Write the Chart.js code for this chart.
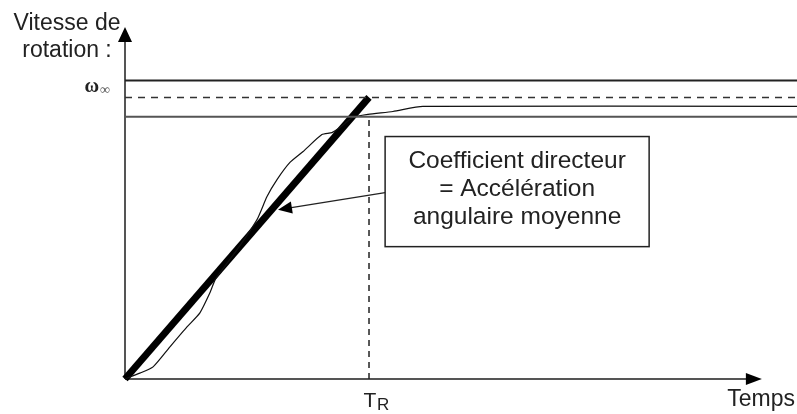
<!DOCTYPE html>
<html>
<head>
<meta charset="utf-8">
<script src="https://cdn.jsdelivr.net/npm/chart.js@4"></script>
<style>
  body { margin: 0; background: #fff; }
  canvas { display: block; }
</style>
</head>
<body>
<canvas id="graphe" width="797" height="414"></canvas>
<script>
// Axes (unités arbitraires : T_R = 10, omega infini = 100)
const xMax = 27.54;
const yMax = 125;
const xFleche = 26.1;
const T_R = 10;
const omegaInf = 100;
const omegaHaut = 106;
const omegaBas = 93.1;

// Droite moyenne (coefficient directeur)
const droiteX = [0, T_R];
const droiteY = [0, omegaInf];

// Courbe relevée de la vitesse de rotation
const courbeX = [0, 0.61, 1.15, 1.84, 2.54, 3.07, 3.48, 3.69, 3.89, 4.6, 5.41, 5.82, 6.23, 6.76, 7.3, 8.07, 8.48, 8.81, 9.34, 9.96, 10.98, 12.21, 27.54];
const courbeY = [0, 2.1, 4.3, 11.4, 18.5, 23.5, 30.6, 35.2, 37.7, 46, 56.6, 64.8, 70.8, 76.9, 80.8, 86.8, 87.5, 89.3, 92.9, 94.0, 95.0, 96.8, 96.8];

// Annotation
const boiteTexte = ["Coefficient directeur", "= Accélération", "angulaire moyenne"];
const boiteX = [10.66, 21.48];
const boiteY = [86.1, 47.0];
const flecheDepart = [10.66, 66.2];
const flecheArrivee = [6.27, 60.1];

const points = (xs, ys) => xs.map((x, i) => ({ x: x, y: ys[i] }));
const horizontale = (y) => [{ x: 0, y: y }, { x: xMax, y: y }];

// Plugin pour les axes fléchés et les textes
const decor = {
  id: "decor",
  beforeDatasetsDraw(chart) {
    const ctx = chart.ctx;
    const sx = chart.scales.x;
    const sy = chart.scales.y;
    const x0 = sx.getPixelForValue(0);
    const y0 = sy.getPixelForValue(0);
    const xf = sx.getPixelForValue(xFleche);
    const yf = sy.getPixelForValue(yMax);
    ctx.save();
    ctx.strokeStyle = "#555";
    ctx.fillStyle = "#000";
    ctx.lineWidth = 2;
    ctx.beginPath();
    ctx.moveTo(x0, y0);
    ctx.lineTo(xf - 10, y0);
    ctx.moveTo(x0, y0);
    ctx.lineTo(x0, yf + 10);
    ctx.stroke();
    // pointes de flèches
    ctx.beginPath();
    ctx.moveTo(xf, y0);
    ctx.lineTo(xf - 16, y0 - 6);
    ctx.lineTo(xf - 16, y0 + 6);
    ctx.closePath();
    ctx.fill();
    ctx.beginPath();
    ctx.moveTo(x0, yf);
    ctx.lineTo(x0 - 7, yf + 15);
    ctx.lineTo(x0 + 7, yf + 15);
    ctx.closePath();
    ctx.fill();
    ctx.restore();
  },
  afterDraw(chart) {
    const ctx = chart.ctx;
    const sx = chart.scales.x;
    const sy = chart.scales.y;
    const x0 = sx.getPixelForValue(0);
    ctx.save();
    ctx.fillStyle = "#222";
    ctx.textBaseline = "alphabetic";

    // titre de l'axe vertical
    ctx.font = "23px 'Liberation Sans', Arial, sans-serif";
    ctx.textAlign = "center";
    ctx.fillText("Vitesse de", x0 - 58, 30);
    ctx.fillText("rotation :", x0 - 58, 57);

    // titre de l'axe horizontal
    ctx.textAlign = "right";
    ctx.fillText("Temps", chart.width - 2, 406);

    // T_R
    const xt = sx.getPixelForValue(T_R);
    ctx.font = "21px 'Liberation Sans', Arial, sans-serif";
    ctx.textAlign = "center";
    ctx.fillText("T", xt + 1, 407);
    ctx.font = "17px 'Liberation Sans', Arial, sans-serif";
    ctx.textAlign = "left";
    ctx.fillText("R", xt + 8, 410);

    // omega infini
    const yw = sy.getPixelForValue(omegaInf);
    ctx.font = "bold 20px 'Liberation Serif', 'Times New Roman', serif";
    ctx.textAlign = "right";
    ctx.fillText("ω", x0 - 26, yw - 5);
    ctx.font = "14px 'Liberation Serif', serif";
    ctx.textAlign = "left";
    ctx.fillStyle = "#555";
    ctx.fillText("∞", x0 - 25, yw - 3);
    ctx.fillStyle = "#222";

    // boîte d'annotation
    const bx1 = sx.getPixelForValue(boiteX[0]);
    const bx2 = sx.getPixelForValue(boiteX[1]);
    const by1 = sy.getPixelForValue(boiteY[0]);
    const by2 = sy.getPixelForValue(boiteY[1]);
    ctx.fillStyle = "#fff";
    ctx.fillRect(bx1, by1, bx2 - bx1, by2 - by1);
    ctx.strokeStyle = "#222";
    ctx.lineWidth = 1.5;
    ctx.strokeRect(bx1, by1, bx2 - bx1, by2 - by1);
    ctx.fillStyle = "#222";
    ctx.font = "24.5px 'Liberation Sans', Arial, sans-serif";
    ctx.textAlign = "center";
    const cx = (bx1 + bx2) / 2;
    boiteTexte.forEach((ligne, i) => {
      ctx.fillText(ligne, cx, by1 + 31 + i * 28);
    });

    // flèche vers la droite moyenne
    const ax1 = sx.getPixelForValue(flecheDepart[0]);
    const ay1 = sy.getPixelForValue(flecheDepart[1]);
    const ax2 = sx.getPixelForValue(flecheArrivee[0]);
    const ay2 = sy.getPixelForValue(flecheArrivee[1]);
    const ang = Math.atan2(ay2 - ay1, ax2 - ax1);
    ctx.strokeStyle = "#222";
    ctx.lineWidth = 1.3;
    ctx.beginPath();
    ctx.moveTo(ax1, ay1);
    ctx.lineTo(ax2 - 12 * Math.cos(ang), ay2 - 12 * Math.sin(ang));
    ctx.stroke();
    ctx.fillStyle = "#000";
    ctx.beginPath();
    ctx.moveTo(ax2, ay2);
    ctx.lineTo(ax2 - 14 * Math.cos(ang) + 6 * Math.sin(ang), ay2 - 14 * Math.sin(ang) - 6 * Math.cos(ang));
    ctx.lineTo(ax2 - 14 * Math.cos(ang) - 6 * Math.sin(ang), ay2 - 14 * Math.sin(ang) + 6 * Math.cos(ang));
    ctx.closePath();
    ctx.fill();
    ctx.restore();
  },
};

const ctx = document.getElementById("graphe").getContext("2d");

new Chart(ctx, {
  type: "scatter",
  data: {
    datasets: [
      {
        label: "omega haut",
        data: horizontale(omegaHaut),
        borderColor: "#222",
        borderWidth: 2,
      },
      {
        label: "omega infini",
        data: horizontale(omegaInf),
        borderColor: "#333",
        borderWidth: 1.5,
        borderDash: [7, 6],
      },
      {
        label: "omega bas",
        data: horizontale(omegaBas),
        borderColor: "#555",
        borderWidth: 2,
      },
      {
        label: "T_R",
        data: [{ x: T_R, y: 0 }, { x: T_R, y: omegaBas }],
        borderColor: "#222",
        borderWidth: 1.5,
        borderDash: [6, 5],
      },
      {
        label: "courbe",
        data: points(courbeX, courbeY),
        borderColor: "#111",
        borderWidth: 1.2,
        tension: 0.2,
      },
      {
        label: "droite moyenne",
        data: points(droiteX, droiteY),
        borderColor: "#000",
        borderWidth: 7,
      },
    ],
  },
  options: {
    responsive: false,
    animation: false,
    showLine: true,
    layout: { padding: { left: 125, right: 0, top: 27, bottom: 35 } },
    elements: { point: { radius: 0, hoverRadius: 0 } },
    datasets: { scatter: { clip: false } },
    plugins: {
      legend: { display: false },
      tooltip: { enabled: false },
    },
    scales: {
      x: { type: "linear", display: false, min: 0, max: xMax },
      y: { type: "linear", display: false, min: 0, max: yMax },
    },
  },
  plugins: [decor],
});
</script>
</body>
</html>
